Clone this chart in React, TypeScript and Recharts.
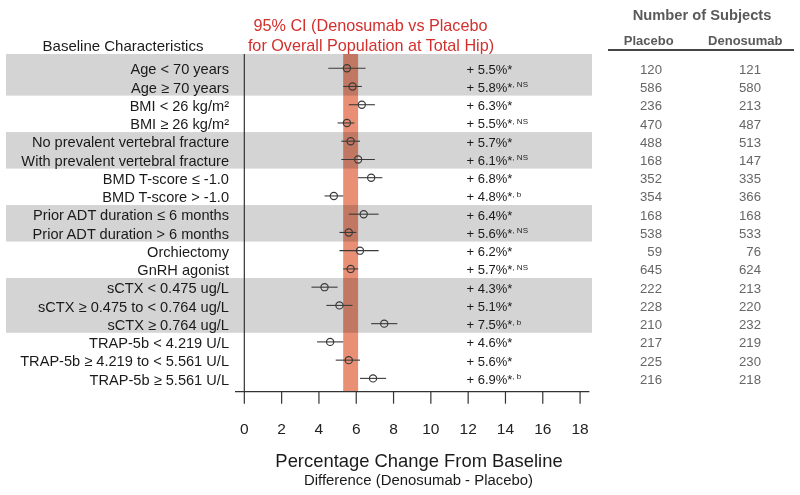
import React from 'react';
import { ScatterChart, Scatter, XAxis, YAxis, ErrorBar, ReferenceArea, ReferenceLine } from 'recharts';

const labels = [
  'Age < 70 years',
  'Age ≥ 70 years',
  'BMI < 26 kg/m²',
  'BMI ≥ 26 kg/m²',
  'No prevalent vertebral fracture',
  'With prevalent vertebral fracture',
  'BMD T-score ≤ -1.0',
  'BMD T-score > -1.0',
  'Prior ADT duration ≤ 6 months',
  'Prior ADT duration > 6 months',
  'Orchiectomy',
  'GnRH agonist',
  'sCTX < 0.475 ug/L',
  'sCTX ≥ 0.475 to < 0.764 ug/L',
  'sCTX ≥ 0.764 ug/L',
  'TRAP-5b < 4.219 U/L',
  'TRAP-5b ≥ 4.219 to < 5.561 U/L',
  'TRAP-5b ≥ 5.561 U/L',
];
const estimates = [5.5, 5.8, 6.3, 5.5, 5.7, 6.1, 6.8, 4.8, 6.4, 5.6, 6.2, 5.7, 4.3, 5.1, 7.5, 4.6, 5.6, 6.9];
const lowerCI = [4.5, 5.3, 5.6, 5.0, 5.2, 5.2, 6.1, 4.3, 5.6, 5.1, 5.1, 5.3, 3.6, 4.4, 6.8, 3.9, 4.9, 6.2];
const upperCI = [6.5, 6.3, 7.0, 5.9, 6.2, 7.0, 7.4, 5.3, 7.2, 6.0, 7.2, 6.1, 5.0, 5.8, 8.2, 5.3, 6.2, 7.6];
const placeboN = [120, 586, 236, 470, 488, 168, 352, 354, 168, 538, 59, 645, 222, 228, 210, 217, 225, 216];
const denosumabN = [121, 580, 213, 487, 513, 147, 335, 366, 168, 533, 76, 624, 213, 220, 232, 219, 230, 218];
const footnotes = ['', 'NS', '', 'NS', '', 'NS', '', 'b', '', 'NS', '', 'NS', '', '', 'b', '', '', 'b'];
const shadedGroups: [number, number][] = [[0, 1], [4, 5], [8, 9], [12, 14]];
const overallCI: [number, number] = [5.3, 6.1];
const xTicks = [0, 2, 4, 6, 8, 10, 12, 14, 16, 18];

const rows = labels.map((label, i) => ({
  row: i,
  label,
  est: estimates[i],
  err: [+(estimates[i] - lowerCI[i]).toFixed(2), +(upperCI[i] - estimates[i]).toFixed(2)],
  placebo: placeboN[i],
  denosumab: denosumabN[i],
  note: footnotes[i],
}));
const rowIdx = rows.map((r) => r.row);

const FONT = '"Liberation Sans", Arial, Helvetica, sans-serif';
const Y_MIN = -0.78;
const Y_MAX = 17.73;

const BandShape = (p: any) => (
  <rect x={6} y={p.y} width={586} height={p.height} fill="#d4d4d4" />
);
const CIBandShape = (p: any) => (
  <rect x={p.x} y={p.y} width={p.width} height={p.height} fill="#e98f75" style={{ mixBlendMode: 'multiply' }} />
);

const LeftTick = (p: any) => {
  const r = rows[p.payload.value];
  if (!r) return null;
  return (
    <text x={229} y={p.y} dy="0.42em" textAnchor="end" fontFamily={FONT} fontSize={14.6} fill="#1a1a1a">
      {r.label}
    </text>
  );
};

const RightTick = (p: any) => {
  const r = rows[p.payload.value];
  if (!r) return null;
  return (
    <g>
      <text x={466.5} y={p.y} dy="0.42em" fontFamily={FONT} fontSize={13} fill="#1a1a1a">
        {`+ ${r.est.toFixed(1)}%*`}
        {r.note ? (
          <tspan fontSize={8} dy={-4.5}>{`, ${r.note}`}</tspan>
        ) : null}
      </text>
      <text x={662} y={p.y} dy="0.42em" textAnchor="end" fontFamily={FONT} fontSize={13.2} fill="#666">
        {r.placebo}
      </text>
      <text x={761} y={p.y} dy="0.42em" textAnchor="end" fontFamily={FONT} fontSize={13.2} fill="#666">
        {r.denosumab}
      </text>
    </g>
  );
};

const PointShape = (p: any) => (
  <circle cx={p.cx} cy={p.cy} r={3.6} fill="none" stroke="#3a3a3a" strokeWidth={1.2} />
);

export default function App() {
  return (
    <div style={{ position: 'fixed', left: 0, top: 0, width: 800, height: 495, background: '#fff' }}>
      <ScatterChart width={800} height={495} margin={{ top: 54, right: 0, bottom: 0, left: 0 }}>
        {shadedGroups.map((g, i) => (
          <ReferenceArea
            key={`band-${i}`}
            yAxisId="left"
            y1={g[0] === 0 ? Y_MIN : g[0] - 0.5}
            y2={g[1] + 0.5}
            ifOverflow="visible"
            shape={BandShape}
          />
        ))}
        <ReferenceArea yAxisId="left" x1={overallCI[0]} x2={overallCI[1]} shape={CIBandShape} />
        <ReferenceLine yAxisId="left" x={0} stroke="#333" strokeWidth={1.2} />
        <XAxis
          dataKey="est"
          type="number"
          domain={[-0.5, 18.5]}
          ticks={xTicks}
          interval={0}
          allowDataOverflow
          height={495 - 391.7}
          tickSize={12}
          tickMargin={19.5}
          axisLine={{ stroke: '#333', strokeWidth: 1.2 }}
          tickLine={{ stroke: '#333', strokeWidth: 1.2 }}
          tick={{ fill: '#222', fontSize: 15.5, fontFamily: FONT }}
        />
        <YAxis
          yAxisId="left"
          dataKey="row"
          type="number"
          domain={[Y_MIN, Y_MAX]}
          reversed
          allowDataOverflow
          ticks={rowIdx}
          interval={0}
          width={235}
          axisLine={false}
          tickLine={false}
          tick={LeftTick}
        />
        <YAxis
          yAxisId="right"
          orientation="right"
          dataKey="row"
          type="number"
          domain={[Y_MIN, Y_MAX]}
          reversed
          allowDataOverflow
          ticks={rowIdx}
          interval={0}
          width={210.6}
          axisLine={false}
          tickLine={false}
          tick={RightTick}
        />
        <Scatter data={rows} yAxisId="left" shape={PointShape} isAnimationActive={false}>
          <ErrorBar dataKey="err" direction="x" width={0} stroke="#3a3a3a" strokeWidth={1.1} />
        </Scatter>
      </ScatterChart>
      <svg
        width={800}
        height={495}
        style={{ position: 'absolute', left: 0, top: 0, pointerEvents: 'none' }}
        fontFamily={FONT}
      >
        <text x={123} y={50.5} textAnchor="middle" fontSize={15} fill="#1a1a1a">Baseline Characteristics</text>
        <text x={370.5} y={31} textAnchor="middle" fontSize={16.2} fill="#d2302c">95% CI (Denosumab vs Placebo</text>
        <text x={371} y={50.5} textAnchor="middle" fontSize={16.2} fill="#d2302c">for Overall Population at Total Hip)</text>
        <text x={702} y={20} textAnchor="middle" fontSize={14.7} fontWeight="bold" fill="#5a5a5a">Number of Subjects</text>
        <text x={648.7} y={44.5} textAnchor="middle" fontSize={13} fontWeight="bold" fill="#5a5a5a">Placebo</text>
        <text x={745.3} y={44.5} textAnchor="middle" fontSize={13} fontWeight="bold" fill="#5a5a5a">Denosumab</text>
        <line x1={608} y1={50} x2={794} y2={50} stroke="#444" strokeWidth={2} />
        <text x={419} y={466.5} textAnchor="middle" fontSize={18.4} fill="#1a1a1a">Percentage Change From Baseline</text>
        <text x={418.5} y={484.5} textAnchor="middle" fontSize={14.9} fill="#1a1a1a">Difference (Denosumab - Placebo)</text>
      </svg>
    </div>
  );
}
